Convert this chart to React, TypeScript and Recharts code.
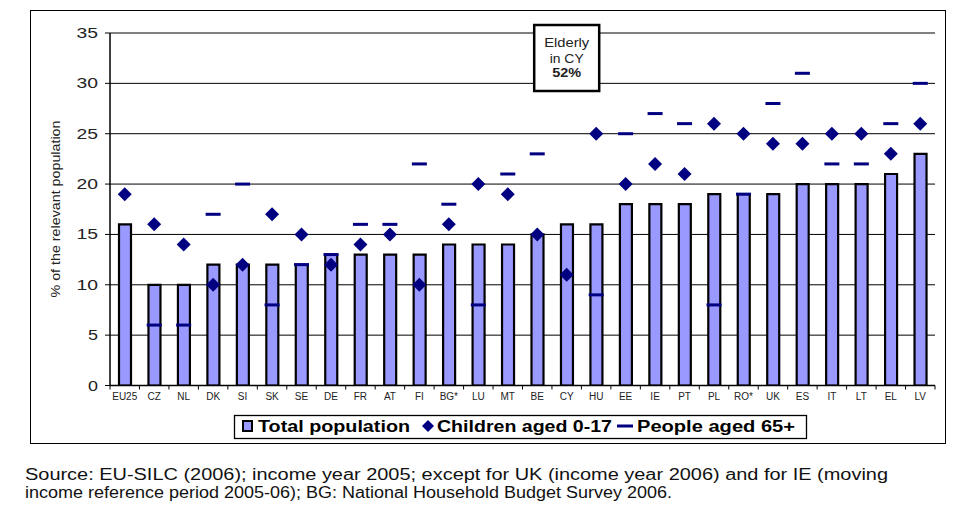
import React from 'react';
import { ComposedChart, Bar, Scatter, XAxis, YAxis, CartesianGrid, ReferenceDot } from 'recharts';

const categories = ['EU25', 'CZ', 'NL', 'DK', 'SI', 'SK', 'SE', 'DE', 'FR', 'AT', 'FI', 'BG*', 'LU', 'MT', 'BE', 'CY', 'HU', 'EE', 'IE', 'PT', 'PL', 'RO*', 'UK', 'ES', 'IT', 'LT', 'EL', 'LV'];
const totalPopulation = [16, 10, 10, 12, 12, 12, 12, 13, 13, 13, 13, 14, 14, 14, 15, 16, 16, 18, 18, 18, 19, 19, 19, 20, 20, 20, 21, 23];
const children = [19, 16, 14, 10, 12, 17, 15, 12, 14, 15, 10, 16, 20, 19, 15, 11, 25, 20, 22, 21, 26, 25, 24, 24, 25, 25, 23, 26];
const elderly: (number | null)[] = [null, 6, 6, 17, 20, 8, 12, 13, 16, 16, 22, 18, 8, 21, 23, 52, 9, 25, 27, 26, 8, 19, 28, 31, 22, 22, 26, 30];
const yTicks = [0, 5, 10, 15, 20, 25, 30, 35];
const Y_MAX = 35;

const data = categories.map((name, i) => ({
  name,
  total: totalPopulation[i],
  children: children[i],
  elderly: elderly[i],
}));

const W = 959;
const H = 509;
const PLOT_LEFT = 110;
const PLOT_RIGHT = 935;
const PLOT_TOP = 33;
const PLOT_BOTTOM = 385.5;
const Y_AXIS_W = 60;
const X_AXIS_H = 30;
const margin = {
  top: PLOT_TOP,
  right: W - PLOT_RIGHT,
  left: PLOT_LEFT - Y_AXIS_W,
  bottom: H - PLOT_BOTTOM - X_AXIS_H,
};
const BAND = (PLOT_RIGHT - PLOT_LEFT) / categories.length;
const NAVY = '#000080';
const BAR_FILL = '#9999FF';
const FONT = '"Liberation Sans", Arial, Helvetica, sans-serif';

const XTick = (props: any) => {
  const { x, y, payload, index } = props;
  const last = index === categories.length - 1;
  return (
    <g>
      <line x1={x - BAND / 2} x2={x - BAND / 2} y1={y} y2={y + 4} stroke="#000" strokeWidth={1} />
      {last && <line x1={x + BAND / 2} x2={x + BAND / 2} y1={y} y2={y + 4} stroke="#000" strokeWidth={1} />}
      <text x={x} y={y + 14.5} textAnchor="middle" fontSize={10} fontFamily={FONT} fill="#222">
        {payload.value}
      </text>
    </g>
  );
};

const YTick = (props: any) => {
  const { x, y, payload } = props;
  const s = String(payload.value);
  return (
    <text
      x={x}
      y={y + 5}
      textAnchor="end"
      fontSize={14}
      fontFamily={FONT}
      fill="#222"
      textLength={s.length === 1 ? 10 : 21.5}
      lengthAdjust="spacingAndGlyphs"
    >
      {s}
    </text>
  );
};

const Diamond = (props: any) => {
  const { cx, cy, payload } = props;
  if (payload == null || payload.children == null || !isFinite(cx) || !isFinite(cy)) return <g />;
  const r = 7;
  return <polygon points={`${cx},${cy - r} ${cx + r},${cy} ${cx},${cy + r} ${cx - r},${cy}`} fill={NAVY} />;
};

const Dash = (props: any) => {
  const { cx, cy, payload } = props;
  if (payload == null || payload.elderly == null || payload.elderly > Y_MAX || !isFinite(cx) || !isFinite(cy)) return <g />;
  return <rect x={cx - 7.5} y={cy - 1.5} width={15} height={3} fill={NAVY} />;
};

const CyNote = (props: any) => {
  const { cx, cy } = props;
  const cyValue = elderly[categories.indexOf('CY')];
  return (
    <g>
      <rect x={cx - 32.5} y={cy - 8} width={65} height={66} fill="#fff" stroke="#000" strokeWidth={2.5} />
      <text x={cx} y={cy + 14} textAnchor="middle" fontSize={12} fontFamily={FONT} fill="#222" textLength={45} lengthAdjust="spacingAndGlyphs">Elderly</text>
      <text x={cx} y={cy + 30} textAnchor="middle" fontSize={12} fontFamily={FONT} fill="#222" textLength={34} lengthAdjust="spacingAndGlyphs">in CY</text>
      <text x={cx} y={cy + 44} textAnchor="middle" fontSize={12} fontWeight="bold" fontFamily={FONT} fill="#222" textLength={29} lengthAdjust="spacingAndGlyphs">{`${cyValue}%`}</text>
    </g>
  );
};

export default function App() {
  return (
    <div style={{ position: 'absolute', left: 0, top: 0, width: W, height: H, background: '#fff' }}>
      <ComposedChart width={W} height={H} data={data} margin={margin}>
        <CartesianGrid vertical={false} stroke="#000" strokeWidth={1} />
        <XAxis
          dataKey="name"
          height={X_AXIS_H}
          interval={0}
          axisLine={{ stroke: '#000', strokeWidth: 1.5 }}
          tickLine={false}
          tickSize={0}
          tickMargin={0}
          tick={<XTick />}
        />
        <XAxis
          xAxisId="top"
          dataKey="name"
          orientation="top"
          height={0}
          axisLine={{ stroke: '#808080', strokeWidth: 2.5 }}
          tick={false}
          tickLine={false}
        />
        <YAxis
          width={Y_AXIS_W}
          domain={[0, Y_MAX]}
          ticks={yTicks}
          allowDataOverflow
          interval={0}
          axisLine={{ stroke: '#000', strokeWidth: 1.5 }}
          tickLine={{ stroke: '#000', strokeWidth: 1 }}
          tickSize={5}
          tickMargin={7}
          tick={<YTick />}
        />
        <YAxis
          yAxisId="right"
          orientation="right"
          width={0}
          domain={[0, Y_MAX]}
          allowDataOverflow
          axisLine={{ stroke: '#808080', strokeWidth: 2.5 }}
          tick={false}
          tickLine={false}
        />
        <Bar dataKey="total" barSize={12} fill={BAR_FILL} stroke="#000" strokeWidth={2.2} isAnimationActive={false} />
        <Scatter dataKey="children" shape={Diamond} isAnimationActive={false} />
        <Scatter dataKey="elderly" shape={Dash} isAnimationActive={false} />
        <ReferenceDot x="CY" y={Y_MAX} ifOverflow="visible" shape={CyNote} />
      </ComposedChart>
      <svg width={W} height={H} style={{ position: 'absolute', left: 0, top: 0, pointerEvents: 'none' }}>
        <rect x={30.5} y={10.5} width={915} height={433} fill="none" stroke="#000" strokeWidth={1} />
        <text
          transform="translate(60,209) rotate(-90)"
          textAnchor="middle"
          fontSize={13}
          fontFamily={FONT}
          fill="#222"
          textLength={177}
          lengthAdjust="spacingAndGlyphs"
        >
          % of the relevant population
        </text>
        <rect x={234.5} y={415.5} width={572} height={23} fill="#fff" stroke="#000" strokeWidth={1.3} />
        <rect x={243} y={421} width={9} height={10} fill={BAR_FILL} stroke="#000" strokeWidth={2} />
        <text x={258} y={431.5} fontSize={16} fontWeight="bold" fontFamily={FONT} fill="#000" textLength={152} lengthAdjust="spacingAndGlyphs">Total population</text>
        <polygon points="428,420 434,426 428,432 422,426" fill={NAVY} />
        <text x={437} y={431.5} fontSize={16} fontWeight="bold" fontFamily={FONT} fill="#000" textLength={175} lengthAdjust="spacingAndGlyphs">Children aged 0-17</text>
        <rect x={617} y={424.5} width={16} height={3} fill={NAVY} />
        <text x={637} y={431.5} fontSize={16} fontWeight="bold" fontFamily={FONT} fill="#000" textLength={158} lengthAdjust="spacingAndGlyphs">People aged 65+</text>
        <text x={25} y={480} fontSize={16} fontFamily={FONT} fill="#111" textLength={863} lengthAdjust="spacingAndGlyphs">
          Source: EU-SILC (2006); income year 2005; except for UK (income year 2006) and for IE (moving
        </text>
        <text x={25} y={498} fontSize={16} fontFamily={FONT} fill="#111" textLength={647} lengthAdjust="spacingAndGlyphs">
          income reference period 2005-06); BG: National Household Budget Survey 2006.
        </text>
      </svg>
    </div>
  );
}
